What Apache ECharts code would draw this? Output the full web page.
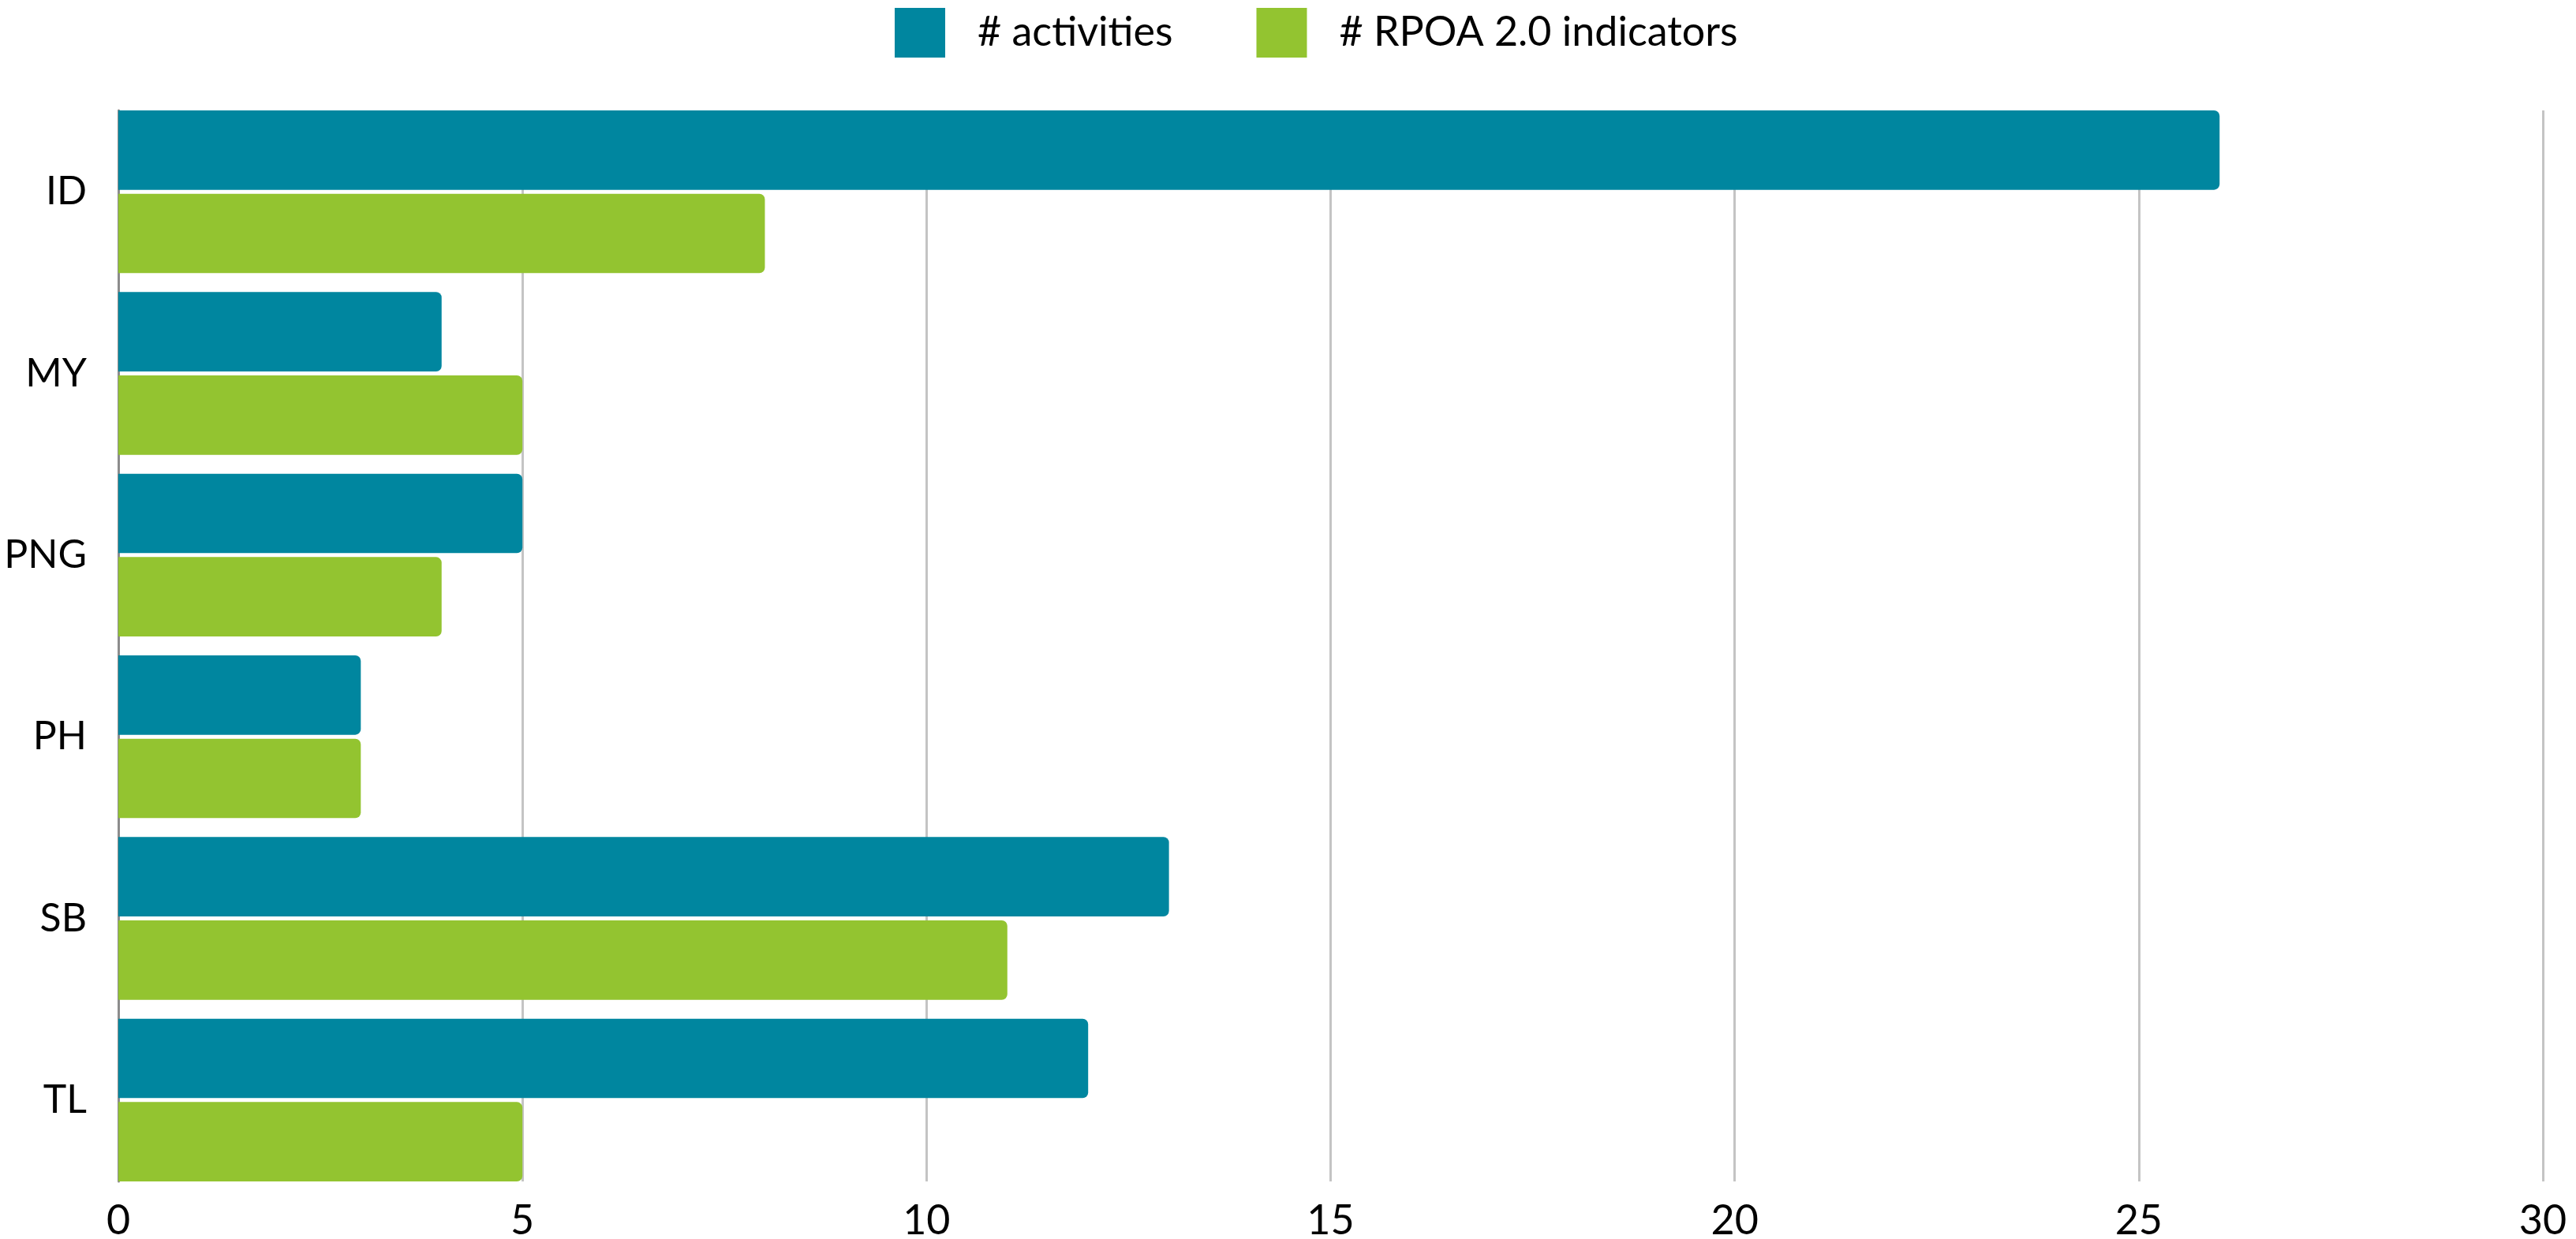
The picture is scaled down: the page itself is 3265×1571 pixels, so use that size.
<!DOCTYPE html>
<html>
<head>
<meta charset="utf-8">
<script src="https://cdn.jsdelivr.net/npm/echarts@6/dist/echarts.min.js"></script>
<style>
  html, body { margin: 0; padding: 0; background: #fff; }
  #chart { width: 3265px; height: 1571px; }
</style>
</head>
<body>
<div id="chart"></div>
<script>
// countries, top to bottom
var countries = ['ID', 'MY', 'PNG', 'PH', 'SB', 'TL'];
var activities = [26, 4, 5, 3, 13, 12];
var indicators = [8, 5, 4, 3, 11, 5];
var xTicks = [0, 5, 10, 15, 20, 25, 30];

var teal = '#00869f';
var green = '#93c430';

var myChart = echarts.init(document.getElementById('chart'));

// grid 0 holds the bars (padded by half a category gap so that the
// outer bars touch the frame), grid 1 holds the gridlines and x labels
var option = {
  backgroundColor: '#fff',
  textStyle: { fontFamily: 'Lato' },
  legend: {
    top: 10,
    left: 1134,
    padding: 0,
    itemWidth: 64,
    itemHeight: 63,
    itemGap: 106,
    icon: 'rect',
    textStyle: { fontSize: 52, color: '#000', padding: [0, 0, 0, 36] },
    data: ['# activities', '# RPOA 2.0 indicators']
  },
  grid: [
    { left: 150, right: 42, top: 128, bottom: 61, outerBoundsMode: 'none' },
    { left: 150, right: 42, top: 140, bottom: 73, outerBoundsMode: 'none' }
  ],
  xAxis: [{
    type: 'value',
    gridIndex: 0,
    min: xTicks[0],
    max: xTicks[xTicks.length - 1],
    show: false
  }, {
    type: 'value',
    gridIndex: 1,
    min: xTicks[0],
    max: xTicks[xTicks.length - 1],
    interval: 5,
    axisLine: { show: false },
    axisTick: { show: false },
    axisLabel: { fontSize: 52, color: '#000', margin: 24 },
    splitLine: { show: true, lineStyle: { color: '#c4c4c4', width: 3 } }
  }],
  yAxis: [{
    type: 'category',
    gridIndex: 0,
    inverse: true,
    data: countries,
    axisLine: { show: false },
    axisTick: { show: false },
    axisLabel: { fontSize: 50, color: '#000', margin: 40 }
  }, {
    type: 'value',
    gridIndex: 1,
    min: 0,
    max: 1,
    axisLine: { show: true, lineStyle: { color: '#8c8c8c', width: 3 } },
    axisTick: { show: false },
    axisLabel: { show: false },
    splitLine: { show: false }
  }],
  series: [{
    name: '# activities',
    type: 'bar',
    xAxisIndex: 0,
    yAxisIndex: 0,
    data: activities,
    barGap: '5%',
    barCategoryGap: '10.4%',
    itemStyle: { color: teal, borderRadius: [0, 7, 7, 0] }
  }, {
    name: '# RPOA 2.0 indicators',
    type: 'bar',
    xAxisIndex: 0,
    yAxisIndex: 0,
    data: indicators,
    barGap: '5%',
    barCategoryGap: '10.4%',
    itemStyle: { color: green, borderRadius: [0, 7, 7, 0] }
  }]
};

myChart.setOption(option);
</script>
</body>
</html>
